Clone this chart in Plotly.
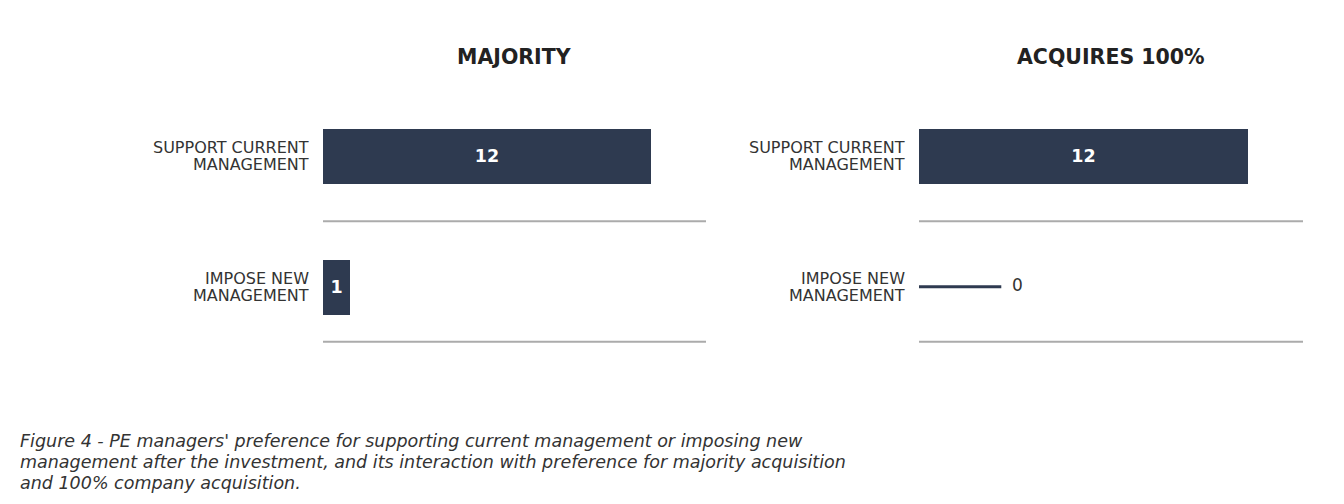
import plotly.graph_objects as go

categories = [["SUPPORT CURRENT", "MANAGEMENT"], ["IMPOSE NEW", "MANAGEMENT"]]
panels = ["MAJORITY", "ACQUIRES 100%"]
majority_vals = [12, 1]
acquires_vals = [12, 0]
caption_lines = [
    "Figure 4 - PE managers' preference for supporting current management or imposing new",
    "management after the investment, and its interaction with preference for majority acquisition",
    "and 100% company acquisition.",
]

BAR = "#2e3a50"
GRID = "#ababab"
TXT = "#333333"
FONT = "DejaVu Sans"
W, H = 1344, 504
OFF = 8  # page margin offset
x_doms = [[(323 - OFF) / W, (706 - OFF) / W], [(919 - OFF) / W, (1303 - OFF) / W]]
y_dom = [1 - (347 - OFF) / H, 1 - (90.5 - OFF) / H]
stub = 3  # length of the stub drawn for zero values

fig = go.Figure()
pos = list(range(len(categories)))

for i, vals in enumerate([majority_vals, acquires_vals]):
    n = "" if i == 0 else str(i + 1)
    nz = [v if v > 0 else None for v in vals]
    fig.add_trace(go.Bar(
        x=nz, y=pos, orientation="h", width=0.42,
        marker=dict(color=BAR, line=dict(width=0)),
        text=[str(v) if v else "" for v in vals],
        textposition="inside", insidetextanchor="middle",
        textfont=dict(color="white", size=17.5, family=FONT, weight="bold"),
        xaxis="x" + n, yaxis="y" + n, showlegend=False, hoverinfo="skip",
    ))
    for p, v in zip(pos, vals):
        if v == 0:
            fig.add_trace(go.Scatter(
                x=[0, stub], y=[p, p], mode="lines+text",
                line=dict(color=BAR, width=3),
                text=["", "  " + str(v)], textposition="middle right",
                textfont=dict(color=TXT, size=17, family=FONT),
                xaxis="x" + n, yaxis="y" + n, showlegend=False, hoverinfo="skip",
            ))
    fig.update_layout({
        "xaxis" + n: dict(domain=x_doms[i], range=[0, 14], visible=False, anchor="y" + n),
        "yaxis" + n: dict(domain=y_dom, range=[1.46, -0.5], anchor="x" + n,
                          visible=False),
    })
    xr = "x" + n + " domain"
    yr = "y" + n
    for yy in [0.5, 1.42]:
        fig.add_shape(type="line", xref=xr, yref=yr, x0=0, x1=1, y0=yy, y1=yy,
                      line=dict(color=GRID, width=2))
    for p, lines in zip(pos, categories):
        for k, line in enumerate(lines):
            fig.add_annotation(text=line, xref=xr, yref=yr, x=0, y=p, xshift=-12,
                               yshift=8.5 - 17 * k, xanchor="right", yanchor="middle",
                               showarrow=False, font=dict(size=16, color=TXT, family=FONT))
    fig.add_annotation(text="<b>" + panels[i] + "</b>", xref="paper", yref="paper",
                       x=sum(x_doms[i]) / 2, y=1 - (57 - OFF) / H, xanchor="center",
                       yanchor="middle", showarrow=False,
                       font=dict(size=20.5, color="#222222", family=FONT))

for k, line in enumerate(caption_lines):
    fig.add_annotation(text="<i>" + line + "</i>", xref="paper", yref="paper",
                       x=(18 - OFF) / W, y=1 - (441 - OFF + 21 * k) / H,
                       xanchor="left", yanchor="middle", showarrow=False,
                       font=dict(size=17.5, color=TXT, family=FONT))

fig.update_layout(width=W, height=H, margin=dict(l=0, r=0, t=0, b=0),
                  plot_bgcolor="white", paper_bgcolor="white", bargap=0)
fig.write_html("out.html")
